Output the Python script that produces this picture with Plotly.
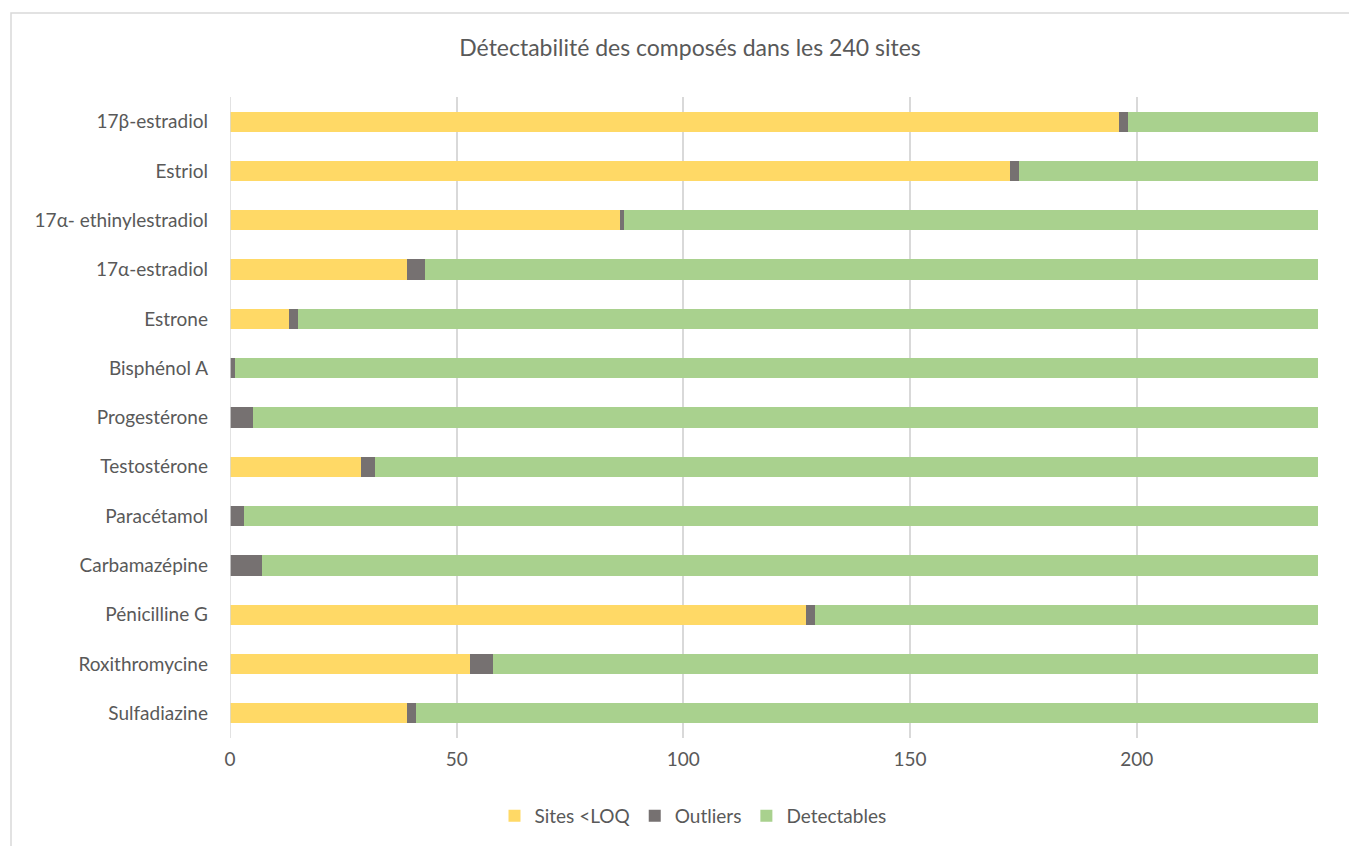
import plotly.graph_objects as go

categories = ["17β-estradiol", "Estriol", "17α- ethinylestradiol", "17α-estradiol", "Estrone",
              "Bisphénol A", "Progestérone", "Testostérone", "Paracétamol", "Carbamazépine",
              "Pénicilline G", "Roxithromycine", "Sulfadiazine"]
sites_loq = [196, 172, 86, 39, 13, 0, 0, 29, 0, 0, 127, 53, 39]
outliers = [2, 2, 1, 4, 2, 1, 5, 3, 3, 7, 2, 5, 2]
detectables = [42, 66, 153, 197, 225, 239, 235, 208, 237, 233, 111, 182, 199]
x_ticks = [0, 50, 100, 150, 200]

FONT = "Lato"
TXT = "#595959"
FS = 19

fig = go.Figure()
fig.add_trace(go.Bar(name="Sites <LOQ", y=categories, x=sites_loq, orientation="h",
                     marker=dict(color="#FFD966", line=dict(width=0))))
fig.add_trace(go.Bar(name="Outliers", y=categories, x=outliers, orientation="h",
                     marker=dict(color="#767171", line=dict(width=0))))
fig.add_trace(go.Bar(name="Detectables", y=categories, x=detectables, orientation="h",
                     marker=dict(color="#A9D18E", line=dict(width=0))))

# page has 8px body offset
OFF = 8
W, H = 1357, 846
L, R, T, B = 230 - OFF, 39 + OFF, 97 - OFF, 108 + OFF
PW, PH = W - L - R, H - T - B
fig.update_layout(
    width=W, height=H,
    barmode="stack", bargap=0.59,
    paper_bgcolor="white", plot_bgcolor="white",
    margin=dict(l=L, r=R, t=T, b=B),
    font=dict(family=FONT, color=TXT, size=FS),
    title=dict(text="Détectabilité des composés dans les 240 sites", x=(690 - OFF) / W, xanchor="center",
               xref="container", y=1 - (48 - OFF) / H, yref="container", yanchor="middle",
               font=dict(family=FONT, size=23, color=TXT)),
    xaxis=dict(range=[0, 240], tickvals=x_ticks, showgrid=True, gridcolor="#D9D9D9", gridwidth=1.5,
               zeroline=False, showline=False, ticks="", ticklabelstandoff=8,
               tickfont=dict(family=FONT, size=FS, color=TXT)),
    yaxis=dict(autorange="reversed", showgrid=False, ticks="", showline=False,
               ticklabelstandoff=21, tickfont=dict(family=FONT, size=FS, color=TXT)),
    legend=dict(orientation="h", xref="container", yref="container", x=(693 - OFF) / W, xanchor="center",
                y=1 - (816 - OFF) / H, yanchor="middle", traceorder="normal",
                font=dict(family=FONT, size=FS, color=TXT), itemwidth=30),
    showlegend=True,
)
# zero line as vertical axis line
fig.add_shape(type="line", xref="x", yref="paper", x0=0, x1=0, y0=0, y1=1,
              line=dict(color="#D9D9D9", width=1.5))
# chart border (top and left visible)
fig.add_shape(type="rect", xref="paper", yref="paper",
              x0=(11 - OFF - L) / PW, x1=(W + 20 - L) / PW,
              y0=-(B + 20) / PH, y1=1 + (T - (13 - OFF)) / PH,
              line=dict(color="#D9D9D9", width=1.5), layer="below")

fig.write_html("out.html")
